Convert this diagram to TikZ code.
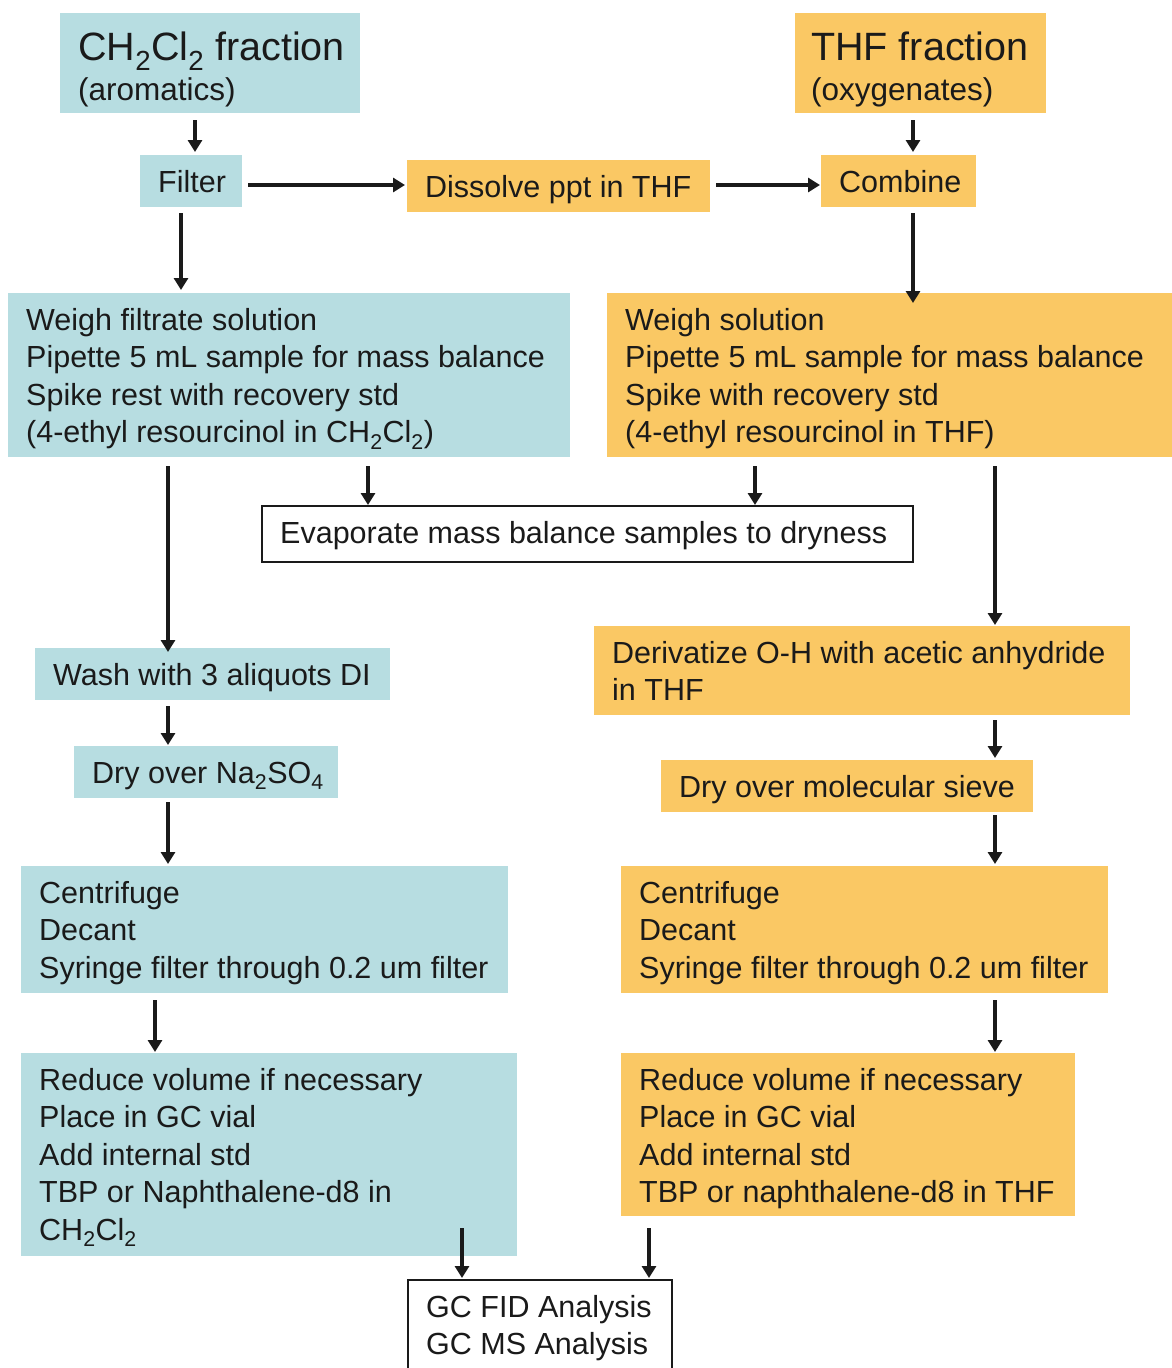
\documentclass[tikz,border=0pt]{standalone}
\usepackage{fontspec}
\setmainfont{Liberation Sans}
\usetikzlibrary{arrows.meta}
\definecolor{aqua}{HTML}{B7DDE1}
\definecolor{amber}{HTML}{FAC864}
\definecolor{ink}{HTML}{1A1A1A}

% filled box given by its corners (style, name, x1, y1, x2, y2)
\newcommand\plate[6]{%
  \pgfmathsetmacro\bxw{#5-#3}%
  \pgfmathsetmacro\bxh{#6-#4}%
  \node[#1, minimum width=\bxw pt, minimum height=\bxh pt, anchor=north west]
    (#2) at (#3,#4) {};}
% box plus its text; the first baseline sits 37pt below the top edge
\newcommand\panel[7]{%
  \plate{#1}{#2}{#3}{#4}{#5}{#6}%
  \node[boxtext] (#2-t) at ({#3+18},{#4+7}) {\rule{0pt}{30pt}#7};}

\tikzset{
  boxtext/.style={anchor=north west, inner sep=0pt, align=left, text=ink,
    font=\fontsize{30.5}{37.5}\selectfont},
  box/.style={rectangle, inner sep=0pt, outer sep=0pt},
  bluebox/.style={box, fill=aqua},
  orangebox/.style={box, fill=amber},
  plainbox/.style={box, draw=ink, fill=white, line width=1.3pt},
  arr/.style={draw=ink, line width=3.4pt, -{Triangle[length=12pt,width=14pt]}}
}

\begin{document}
\begin{tikzpicture}[x=1pt,y=-1pt]
\clip (0,0) rectangle (1172,1368);
\fill[white] (0,0) rectangle (1172,1368);

% columns and rows used by the connectors
\coordinate (k1) at (195,0);
\coordinate (k2) at (913,0);
\coordinate (k3) at (181,0);
\coordinate (k4) at (368,0);
\coordinate (k5) at (755,0);
\coordinate (k6) at (168,0);
\coordinate (k7) at (995,0);
\coordinate (k8) at (155,0);
\coordinate (k9) at (462,0);
\coordinate (k10) at (649,0);
\coordinate (r1) at (0,185);

\plate{bluebox}{ch}{60}{13}{360}{113}
\node[boxtext] (ch-t) at (78,22) {\rule{0pt}{38pt}{\fontsize{39.5}{40}\selectfont CH\textsubscript{2}Cl\textsubscript{2} fraction}\\[2.5pt]{\fontsize{31.5}{40}\selectfont (aromatics)}};
\plate{orangebox}{thf}{795}{13}{1046}{113}
\node[boxtext] (thf-t) at (811,22) {\rule{0pt}{38pt}{\fontsize{39.5}{40}\selectfont THF fraction}\\[2.5pt]{\fontsize{31.5}{40}\selectfont (oxygenates)}};
\panel{bluebox}{filter}{140}{155}{242}{207}{Filter}
\panel{orangebox}{dissolve}{407}{160}{710}{212}{Dissolve ppt in THF}
\panel{orangebox}{combine}{821}{155}{976}{207}{Combine}
\panel{bluebox}{weighL}{8}{293}{570}{457}{Weigh filtrate solution\\Pipette 5 mL sample for mass balance\\Spike rest with recovery std\\(4-ethyl resourcinol in CH\textsubscript{2}Cl\textsubscript{2})}
\panel{orangebox}{weighR}{607}{293}{1180}{457}{Weigh solution\\Pipette 5 mL sample for mass balance\\Spike with recovery std\\(4-ethyl resourcinol in THF)}
\panel{plainbox}{evap}{262}{506}{913}{562}{Evaporate mass balance samples to dryness}
\panel{bluebox}{wash}{35}{648}{390}{700}{Wash with 3 aliquots DI}
\panel{orangebox}{deriv}{594}{626}{1130}{715}{Derivatize O-H with acetic anhydride\\in THF}
\panel{bluebox}{dryL}{74}{746}{338}{798}{Dry over Na\textsubscript{2}SO\textsubscript{4}}
\panel{orangebox}{dryR}{661}{760}{1033}{812}{Dry over molecular sieve}
\panel{bluebox}{centL}{21}{866}{508}{993}{Centrifuge\\Decant\\Syringe filter through 0.2 um filter}
\panel{orangebox}{centR}{621}{866}{1108}{993}{Centrifuge\\Decant\\Syringe filter through 0.2 um filter}
\panel{bluebox}{redL}{21}{1053}{517}{1256}{Reduce volume if necessary\\Place in GC vial\\Add internal std\\TBP or Naphthalene-d8 in\\CH\textsubscript{2}Cl\textsubscript{2}}
\panel{orangebox}{redR}{621}{1053}{1075}{1216}{Reduce volume if necessary\\Place in GC vial\\Add internal std\\TBP or naphthalene-d8 in THF}
\panel{plainbox}{gc}{408}{1280}{672}{1390}{GC FID Analysis\\GC MS Analysis}

% connectors
\draw[arr] ([yshift=-7pt]ch.south -| k1) -- ([yshift=3pt]filter.north -| k1);
\draw[arr] ([yshift=-7pt]thf.south -| k2) -- ([yshift=3pt]combine.north -| k2);
\draw[arr] ([xshift=6pt]filter.east |- r1) -- ([xshift=-2pt]dissolve.west |- r1);
\draw[arr] ([xshift=6pt]dissolve.east |- r1) -- ([xshift=-1pt]combine.west |- r1);
\draw[arr] ([yshift=-6pt]filter.south -| k3) -- ([yshift=3pt]weighL.north -| k3);
\draw[arr] ([yshift=-6pt]combine.south -| k2) -- ([yshift=-10pt]weighR.north -| k2);
\draw[arr] ([yshift=-9pt]weighL.south -| k4) -- ([yshift=1pt]evap.north -| k4);
\draw[arr] ([yshift=-9pt]weighR.south -| k5) -- ([yshift=1pt]evap.north -| k5);
\draw[arr] ([yshift=-9pt]weighL.south -| k6) -- ([yshift=-4pt]wash.north -| k6);
\draw[arr] ([yshift=-9pt]weighR.south -| k7) -- ([yshift=1pt]deriv.north -| k7);
\draw[arr] ([yshift=-6pt]wash.south -| k6) -- ([yshift=1pt]dryL.north -| k6);
\draw[arr] ([yshift=-5pt]deriv.south -| k7) -- ([yshift=2pt]dryR.north -| k7);
\draw[arr] ([yshift=-4pt]dryL.south -| k6) -- ([yshift=2pt]centL.north -| k6);
\draw[arr] ([yshift=-3pt]dryR.south -| k7) -- ([yshift=2pt]centR.north -| k7);
\draw[arr] ([yshift=-7pt]centL.south -| k8) -- ([yshift=1pt]redL.north -| k8);
\draw[arr] ([yshift=-7pt]centR.south -| k7) -- ([yshift=1pt]redR.north -| k7);
\draw[arr] ([yshift=28pt]redL.south -| k9) -- ([yshift=2pt]gc.north -| k9);
\draw[arr] ([yshift=-12pt]redR.south -| k10) -- ([yshift=2pt]gc.north -| k10);
\end{tikzpicture}
\end{document}
